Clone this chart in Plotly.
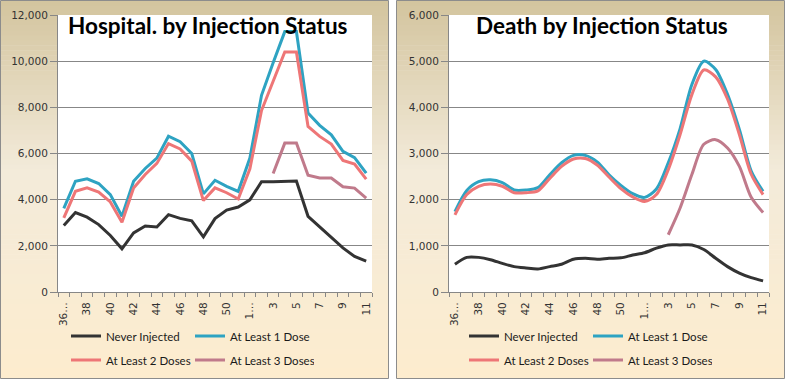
import plotly.graph_objects as go

# ---------------- data ----------------
weeks = ["36…", "37", "38", "39", "40", "41", "42", "43", "44", "45", "46", "47", "48",
         "49", "50", "51", "1…", "2", "3", "4", "5", "6", "7", "8", "9", "10", "11"]

hosp_never = [2880, 3440, 3240, 2920, 2450, 1870, 2560, 2860, 2820, 3350, 3190, 3080, 2390, 3180,
              3550, 3680, 3990, 4780, 4780, 4810, 4810, 3280, 2830, 2370, 1910, 1540, 1340]
hosp_1dose = [3620, 4800, 4900, 4700, 4220, 3280, 4800, 5350, 5800, 6750, 6510, 6000, 4250, 4840,
              4580, 4360, 5800, 8520, 9930, 11280, 11280, 7750, 7220, 6810, 6090, 5820, 5150]
hosp_2dose = [3210, 4360, 4510, 4330, 3900, 3020, 4500, 5090, 5570, 6430, 6200, 5670, 3960, 4510,
              4300, 4030, 5340, 7860, 9130, 10400, 10400, 7170, 6740, 6410, 5700, 5540, 4890]
hosp_3dose = [None, None, None, None, None, None, None, None, None, None, None, None, None, None,
              None, None, None, None, 5130, 6450, 6450, 5060, 4940, 4940, 4560, 4500, 4070]

death_never = [600, 750, 750, 700, 620, 550, 520, 500, 550, 600, 710, 730, 710, 730,
               740, 800, 850, 950, 1020, 1020, 1020, 920, 730, 550, 410, 310, 240]
death_1dose = [1740, 2200, 2390, 2430, 2370, 2210, 2210, 2260, 2540, 2800, 2960, 2960, 2820, 2540,
               2310, 2130, 2050, 2230, 2800, 3540, 4500, 5000, 4820, 4280, 3520, 2620, 2180]
death_2dose = [1670, 2110, 2290, 2340, 2290, 2150, 2150, 2190, 2460, 2720, 2880, 2890, 2750, 2490,
               2240, 2060, 1960, 2110, 2650, 3410, 4280, 4810, 4660, 4180, 3410, 2550, 2110]
death_3dose = [None, None, None, None, None, None, None, None, None, None, None, None, None, None,
               None, None, None, None, 1240, 1820, 2550, 3200, 3300, 3120, 2720, 2050, 1720]

series_names = ["Never Injected", "At Least 1 Dose", "At Least 2 Doses", "At Least 3 Doses"]
titles = ["Hospital. by Injection Status", "Death by Injection Status"]

# ---------------- style ----------------
W, H = 785, 379
colors = ["#333333", "#2ea3c2", "#ee7677", "#c07a8b"]
GRID = "#878787"
TICKFONT = dict(family="DejaVu Sans", size=10.5, color="#333333")
idx = list(range(len(weeks)))


def px_x(p):
    return p / W


def px_y(p):
    return 1 - p / H


fig = go.Figure()

left_series = [hosp_never, hosp_1dose, hosp_2dose, hosp_3dose]
right_series = [death_never, death_1dose, death_2dose, death_3dose]
left_legends = ["legend", "legend", "legend2", "legend2"]
right_legends = ["legend3", "legend3", "legend4", "legend4"]

for vals, name, col, lg in zip(left_series, series_names, colors, left_legends):
    fig.add_trace(go.Scatter(x=idx, y=vals, name=name, mode="lines",
                             line=dict(color=col, width=3), xaxis="x", yaxis="y",
                             legend=lg, connectgaps=False, hoverinfo="skip"))
for vals, name, col, lg in zip(right_series, series_names, colors, right_legends):
    fig.add_trace(go.Scatter(x=idx, y=vals, name=name, mode="lines",
                             line=dict(color=col, width=3, shape="spline", smoothing=0.8),
                             xaxis="x2", yaxis="y2",
                             legend=lg, connectgaps=False, hoverinfo="skip"))

# ---------------- background panels (vertical gradient) ----------------
stops = [(0.0, (211, 196, 158)), (0.45, (243, 235, 218)), (1.0, (253, 236, 206))]


def grad(t):
    for (t0, c0), (t1, c1) in zip(stops[:-1], stops[1:]):
        if t <= t1:
            f = (t - t0) / (t1 - t0)
            return "rgb(%d,%d,%d)" % tuple(round(a + (b - a) * f) for a, b in zip(c0, c1))
    return "rgb(%d,%d,%d)" % stops[-1][1]


shapes = []
panels = [(0.5, 388.5), (396.5, 784.5)]
nb = 76
for (x0, x1) in panels:
    for k in range(nb):
        y0 = 0.5 + k * (378 / nb)
        y1 = 0.5 + (k + 1) * (378 / nb)
        shapes.append(dict(type="rect", xref="paper", yref="paper", layer="below",
                           x0=px_x(x0), x1=px_x(x1), y0=px_y(y0), y1=px_y(min(y1 + 0.6, 378.5)),
                           fillcolor=grad((k + 0.5) / nb), line=dict(width=0)))
    shapes.append(dict(type="rect", xref="paper", yref="paper", layer="below",
                       x0=px_x(x0), x1=px_x(x1), y0=px_y(0.5), y1=px_y(378.5),
                       fillcolor="rgba(0,0,0,0)", line=dict(color="#8c8c8c", width=1)))
# white plot areas
for xr, yr in [("x domain", "y domain"), ("x2 domain", "y2 domain")]:
    shapes.append(dict(type="rect", xref=xr, yref=yr, layer="below", x0=0, x1=1, y0=0, y1=1,
                       fillcolor="white", line=dict(width=0)))

# ---------------- axes ----------------
ydom = [px_y(292), px_y(15)]


def xaxis(dom, anchor):
    return dict(domain=dom, anchor=anchor, range=[-0.5, len(weeks) - 0.5], automargin=False,
                tickmode="array", tickvals=idx[::2], ticktext=weeks[::2],
                tickangle=-90, ticks="outside", ticklen=5, tickcolor="rgba(0,0,0,0)",
                tickfont=TICKFONT, showline=True, linecolor=GRID, linewidth=1,
                showgrid=False, zeroline=False, fixedrange=True,
                minor=dict(tickmode="linear", tick0=-0.5, dtick=1, ticks="outside",
                           ticklen=4, tickcolor=GRID, showgrid=False))


def yaxis(anchor, top, step):
    return dict(domain=ydom, anchor=anchor, range=[0, top], tickmode="linear", tick0=0,
                automargin=False,
                dtick=step, tickformat=",d", tickfont=TICKFONT, showgrid=True,
                gridcolor=GRID, gridwidth=1, showline=True, linecolor=GRID, linewidth=1,
                ticks="outside", ticklen=7, tickcolor=GRID, zeroline=False, fixedrange=True)


legend_common = dict(orientation="h", xanchor="left", yanchor="middle", entrywidth=79,
                     entrywidthmode="pixels", bgcolor="rgba(0,0,0,0)", borderwidth=0,
                     font=dict(family="Lato", size=11.5, color="#1a1a1a"), traceorder="normal",
                     itemclick=False, itemdoubleclick=False)

fig.update_layout(
    width=W, height=H, autosize=False,
    margin=dict(l=0, r=0, t=0, b=0, pad=0, autoexpand=False),
    paper_bgcolor="white", plot_bgcolor="rgba(0,0,0,0)",
    showlegend=True,
    xaxis=xaxis([px_x(58), px_x(372)], "y"),
    yaxis=yaxis("x", 12000, 2000),
    xaxis2=xaxis([px_x(449), px_x(769)], "y2"),
    yaxis2=yaxis("x2", 6000, 1000),
    legend=dict(legend_common, x=px_x(66), y=px_y(336)),
    legend2=dict(legend_common, x=px_x(66), y=px_y(360)),
    legend3=dict(legend_common, x=px_x(464), y=px_y(336)),
    legend4=dict(legend_common, x=px_x(464), y=px_y(360)),
    shapes=shapes,
    annotations=[
        dict(text=titles[0], xref="paper", yref="paper", x=px_x(207.5), y=px_y(26),
             xanchor="center", yanchor="middle", showarrow=False,
             font=dict(family="Lato", size=22.5, weight="bold", color="black")),
        dict(text=titles[1], xref="paper", yref="paper", x=px_x(602), y=px_y(26),
             xanchor="center", yanchor="middle", showarrow=False,
             font=dict(family="Lato", size=22.5, weight="bold", color="black")),
    ],
)

fig.write_html("out.html", config={"displayModeBar": False, "staticPlot": False},
               post_script="document.body.style.margin='0';document.body.style.overflow='hidden';")
